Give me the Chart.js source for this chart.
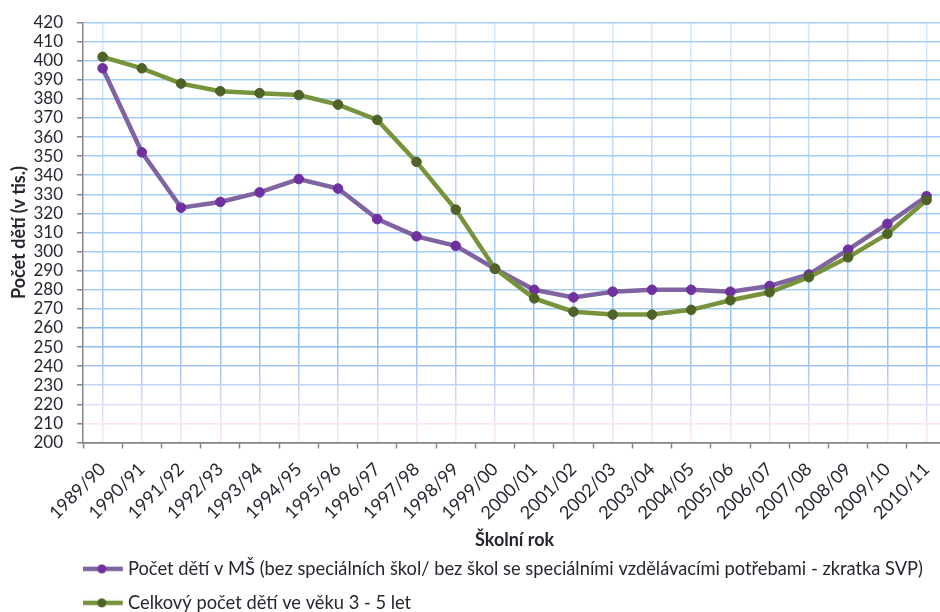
<!DOCTYPE html>
<html><head><meta charset="utf-8">
<script src="https://cdn.jsdelivr.net/npm/chart.js@4.4.0/dist/chart.umd.min.js"></script>
<style>
html,body{margin:0;padding:0;background:#fff;overflow:hidden;width:940px;height:612px}
#wrap{position:absolute;left:0;top:0;width:952px;height:622px}
</style></head><body>
<div id="wrap"><canvas id="c"></canvas></div>
<script>
const categories = ['1989/90','1990/91','1991/92','1992/93','1993/94','1994/95','1995/96','1996/97','1997/98','1998/99','1999/00','2000/01','2001/02','2002/03','2003/04','2004/05','2005/06','2006/07','2007/08','2008/09','2009/10','2010/11'];
const childrenInMS = [396,352,323,326,331,338,333,317,308,303,291,280,276,279,280,280,279,282,288,301,314.5,329];
const childrenAged3to5 = [402,396,388,384,383,382,377,369,347,322,291,275.5,268.5,267,267,269.5,274.5,278.7,286.6,297,309.3,327];
const seriesNames = ['Počet dětí v MŠ (bez speciálních škol/ bez škol se speciálními vzdělávacími potřebami - zkratka SVP)','Celkový počet dětí ve věku 3 - 5 let'];
const yMin = 200, yMax = 420, yStep = 10;
const xTitle = 'Školní rok';
const yTitle = 'Počet dětí (v tis.)';

const FONT = 'Lato';
const TXT = '#262630';
const AXIS = '#868686';
const lineColors = ['#8064A2','#77933C'];
const markerColors = ['#7030A0','#4F6228'];

function legendIcon(i){
  const c = document.createElement('canvas');
  c.width = 54; c.height = 12;
  const g = c.getContext('2d');
  g.strokeStyle = lineColors[i]; g.lineWidth = 4.5;
  g.beginPath(); g.moveTo(0,6); g.lineTo(41,6); g.stroke();
  g.fillStyle = markerColors[i];
  g.beginPath(); g.arc(20,6,4.5,0,Math.PI*2); g.fill();
  return c;
}
const icons = [legendIcon(0), legendIcon(1)];

function hGridColor(ctx){
  const v = ctx.tick ? ctx.tick.value : 0;
  if (v >= 270) return '#a3cdf7';
  if (v >= 250) return '#8cbef2';
  if (v === 240) return '#a4c3f2';
  if (v === 230) return '#c4d2f4';
  if (v === 220) return '#e3dcf6';
  if (v === 210) return '#fbe3f2';
  return AXIS;
}
const vStops = [[420,'#d8eafc'],[340,'#bcdaf9'],[290,'#9fcbf6'],[255,'#8cbef2'],[235,'#b6cbf3'],[220,'#e0daf6'],[200,'#fde6f3']];
function vGridColor(ctx){
  const ch = ctx.chart, a = ch.chartArea;
  if (!a) return '#c4defa';
  const g = ch.ctx.createLinearGradient(0,a.top,0,a.bottom);
  vStops.forEach(s => g.addColorStop((yMax - s[0])/(yMax - yMin), s[1]));
  return g;
}

new Chart(document.getElementById('c'), {
  type: 'line',
  data: {
    labels: categories,
    datasets: [
      {label: seriesNames[0], data: childrenInMS, order: 1, borderColor: lineColors[0], borderWidth: 4.5,
       pointBackgroundColor: markerColors[0], pointBorderColor: markerColors[0], pointBorderWidth: 1, pointRadius: 4.8, tension: 0, xAxisID: 'x'},
      {label: seriesNames[1], data: childrenAged3to5, order: 0, borderColor: lineColors[1], borderWidth: 4.5,
       pointBackgroundColor: markerColors[1], pointBorderColor: markerColors[1], pointBorderWidth: 1, pointRadius: 4.8, tension: 0, xAxisID: 'x'}
    ]
  },
  options: {
    responsive: true, maintainAspectRatio: false, animation: false,
    layout: {padding: {top: 22, left: 0, right: 0, bottom: 0}},
    plugins: {
      tooltip: {enabled: false},
      legend: {
        position: 'bottom', align: 'start', fullSize: false,
        labels: {
          usePointStyle: true, pointStyleWidth: 20.15, padding: 15.7,
          font: {family: FONT, size: 18.3}, color: TXT,
          sort: (a, b) => a.datasetIndex - b.datasetIndex,
          generateLabels: (chart) => Chart.defaults.plugins.legend.labels.generateLabels(chart).map(l => Object.assign(l, {pointStyle: icons[l.datasetIndex], fontColor: TXT}))
        }
      }
    },
    scales: {
      x2: {
        type: 'category', position: 'bottom', offset: true, weight: 0,
        grid: {offset: true, drawOnChartArea: false, drawTicks: true, tickLength: 6, tickColor: AXIS, tickWidth: 1.5, color: AXIS},
        border: {display: true, color: AXIS, width: 1.5},
        ticks: {display: false},
        afterFit: (s) => { s.height = 6; }
      },
      x: {
        type: 'category', position: 'bottom', offset: true, weight: 1,
        grid: {offset: false, drawTicks: false, color: vGridColor, lineWidth: 1.5},
        border: {display: false},
        ticks: {font: {family: FONT, size: 18}, color: TXT, minRotation: 45, maxRotation: 45, padding: 10, autoSkip: false},
        title: {display: true, text: xTitle, color: TXT, font: {family: FONT, size: 18, weight: 'bold', lineHeight: 1}, padding: {top: 0, bottom: -5}},
        afterFit: (s) => { s.height = 95.5; }
      },
      y: {
        type: 'linear', min: yMin, max: yMax,
        grid: {color: hGridColor, lineWidth: 1.5, drawTicks: true, tickLength: 6, tickColor: AXIS, tickWidth: 1.5},
        border: {display: true, color: AXIS, width: 1.5},
        ticks: {stepSize: yStep, autoSkip: false, maxTicksLimit: 40, font: {family: FONT, size: 17, lineHeight: 1}, color: TXT, padding: 14},
        title: {display: true, text: yTitle, color: TXT, font: {family: FONT, size: 18, weight: 'bold', lineHeight: 1.2}, padding: {top: 8, bottom: 0}},
        afterFit: (s) => { s.width = 83; }
      }
    }
  }
});
</script>
</body></html>
